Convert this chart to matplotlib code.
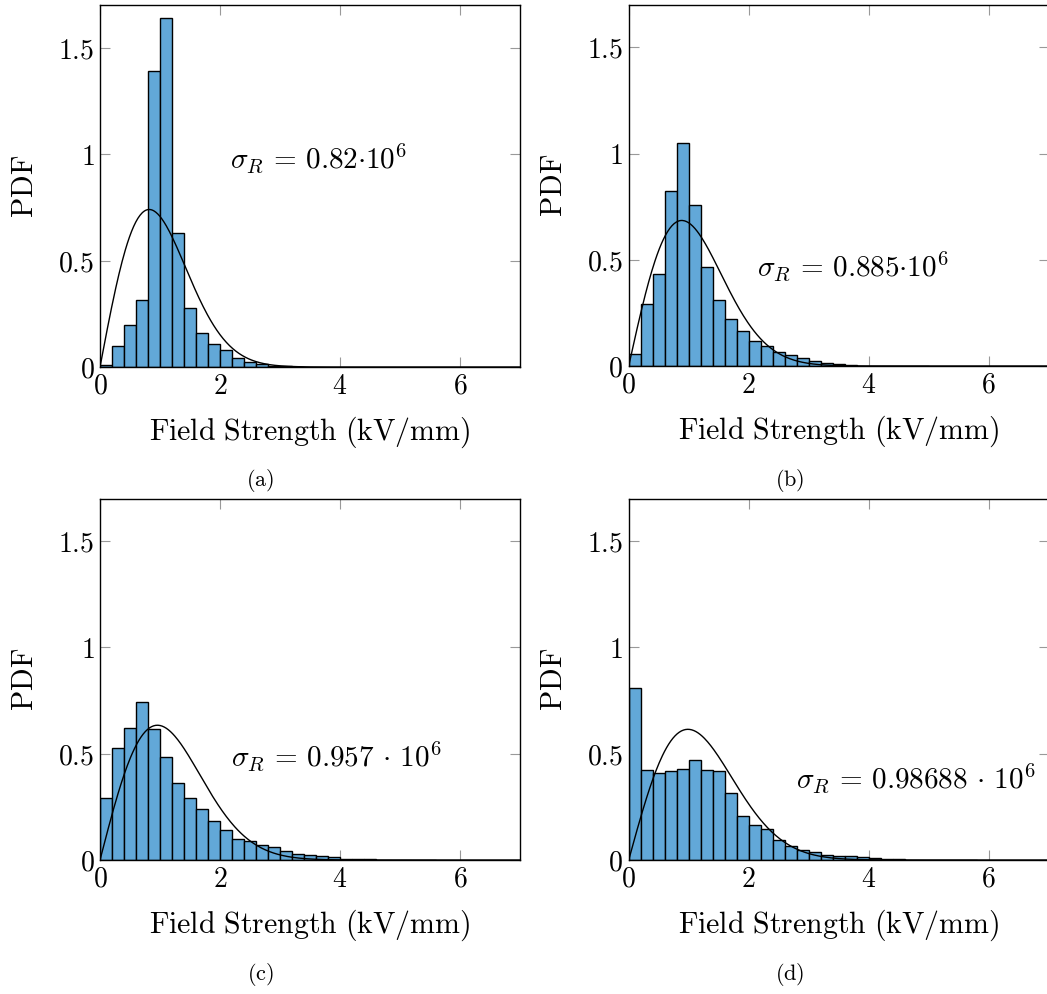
import numpy as np
import matplotlib
matplotlib.use('Agg')
import matplotlib.pyplot as plt
from matplotlib.ticker import FuncFormatter

plt.rcParams['mathtext.fontset'] = 'cm'
plt.rcParams['font.family'] = 'serif'

bin_width = 0.2
# histogram heights (PDF), bins of 0.2 kV/mm starting at 0
pdf_a = [0.008, 0.097, 0.199, 0.316, 1.388, 1.637, 0.628, 0.279, 0.160, 0.109,
         0.078, 0.040, 0.023, 0.012, 0.006, 0.003, 0.001]
pdf_b = [0.056, 0.291, 0.431, 0.825, 1.052, 0.758, 0.466, 0.309, 0.220, 0.163,
         0.119, 0.094, 0.064, 0.052, 0.039, 0.025, 0.014, 0.008, 0.003, 0.002,
         0.001, 0.001, 0.001, 0.001, 0.001]
pdf_c = [0.290, 0.525, 0.622, 0.743, 0.618, 0.483, 0.364, 0.293, 0.240, 0.182,
         0.139, 0.100, 0.091, 0.072, 0.060, 0.044, 0.030, 0.024, 0.019, 0.016,
         0.006, 0.005, 0.003, 0.002, 0.002, 0.001, 0.001, 0.001]
pdf_d = [0.810, 0.422, 0.408, 0.420, 0.428, 0.470, 0.422, 0.420, 0.315, 0.205,
         0.163, 0.144, 0.092, 0.067, 0.045, 0.036, 0.025, 0.020, 0.017, 0.014,
         0.009, 0.006, 0.003, 0.002, 0.002, 0.001, 0.001, 0.001, 0.001]

sigmas = [0.82, 0.885, 0.957, 0.98688]
labels = [r'$\sigma_R\,=\,0.82{\cdot}10^6$', r'$\sigma_R\,=\,0.885{\cdot}10^6$',
          r'$\sigma_R\,=\,0.957\,\cdot\,10^6$', r'$\sigma_R\,=\,0.98688\,\cdot\,10^6$']
label_pos = [(2.17, 0.98), (2.14, 0.47), (2.18, 0.49), (2.78, 0.385)]
captions = ['(a)', '(b)', '(c)', '(d)']

W, H = 1047, 994
fig = plt.figure(figsize=(W / 100, H / 100), dpi=100)

# axes boxes in pixels: left, top, right, bottom
boxes = [(100, 5, 520, 367), (628.7, 5, 1048.7, 366),
         (100, 498.5, 520, 860), (628.7, 498.5, 1048.7, 860)]
cap_xy = [(260, 481), (790, 481), (260, 975), (790, 975)]

fmt = FuncFormatter(lambda v, p: '$%g$' % v)
bar_color = '#62a8d8'

for i, data in enumerate([pdf_a, pdf_b, pdf_c, pdf_d]):
    l, t, r, b = boxes[i]
    ax = fig.add_axes([l / W, 1 - b / H, (r - l) / W, (b - t) / H])
    edges = np.arange(len(data)) * bin_width
    ax.bar(edges, data, width=bin_width, align='edge', color=bar_color,
           edgecolor='black', linewidth=1.0, zorder=2)
    s = sigmas[i]
    x = np.linspace(0, 7, 400)
    ax.plot(x, x / s**2 * np.exp(-x**2 / (2 * s**2)), color='black', lw=1.0, zorder=3)
    ax.set_xlim(0, 7)
    ax.set_ylim(0, 1.7)
    ax.set_xticks([0, 2, 4, 6])
    ax.set_yticks([0, 0.5, 1, 1.5])
    ax.xaxis.set_major_formatter(fmt)
    ax.yaxis.set_major_formatter(fmt)
    ax.tick_params(direction='in', top=True, right=True, length=7, width=0.8,
                   color='#999999', labelsize=20, pad=4)
    for sp in ax.spines.values():
        sp.set_linewidth(1.0)
        sp.set_zorder(4)
    ax.set_xlabel(r'$\mathrm{Field\ Strength\ (kV/mm)}$', fontsize=21.5, labelpad=11)
    ax.set_ylabel(r'$\mathrm{PDF}$', fontsize=21.5, labelpad=14)
    ax.text(label_pos[i][0], label_pos[i][1], labels[i], fontsize=21,
            ha='left', va='center')
    fig.text(cap_xy[i][0] / W, 1 - cap_xy[i][1] / H, r'$\mathrm{%s}$' % captions[i],
             fontsize=16, ha='center', va='center')

fig.savefig('out.png', dpi=100)
